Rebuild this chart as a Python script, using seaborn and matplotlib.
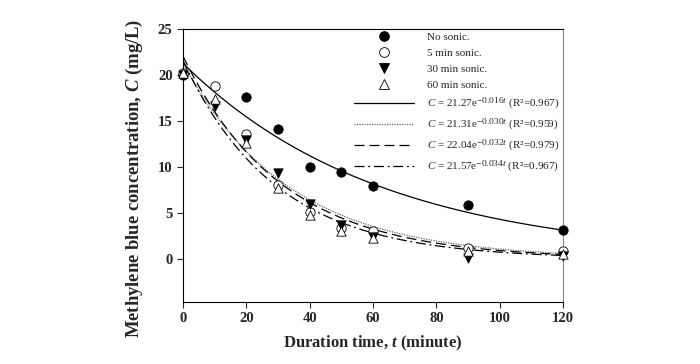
import numpy as np
import pandas as pd
import matplotlib
matplotlib.use('Agg')
import matplotlib.pyplot as plt
import matplotlib._mathtext as mathtext_mod
from matplotlib.lines import Line2D
import seaborn as sns

# measured data (mg/L)
t_min = [0, 10, 20, 30, 40, 50, 60, 90, 120]
t_nosonic = [0, 20, 30, 40, 50, 60, 90, 120]
c_nosonic = [20.0, 17.6, 14.1, 10.0, 9.4, 7.9, 5.9, 3.1]
c_5min = [20.2, 18.8, 13.6, 8.0, 5.1, 3.4, 3.0, 1.2, 0.9]
c_30min = [20.0, 16.6, 12.9, 9.3, 6.0, 3.7, 2.4, 0.1, 0.3]
c_60min = [20.2, 17.4, 12.6, 7.7, 4.8, 3.0, 2.3, 0.8, 0.5]

# fitted first-order decay parameters, C = a * exp(-k t)
fit_a = [21.27, 21.31, 22.04, 21.57]
fit_k = [0.016, 0.030, 0.032, 0.034]
fit_r2 = [0.967, 0.959, 0.979, 0.967]

series_names = ['No sonic.', '5 min sonic.', '30 min sonic.', '60 min sonic.']

sns.set_style('ticks')
plt.rcParams['font.family'] = ['Liberation Serif', 'DejaVu Serif']
plt.rcParams['mathtext.fontset'] = 'custom'
plt.rcParams['mathtext.rm'] = 'Liberation Serif'
plt.rcParams['mathtext.it'] = 'Liberation Serif:italic'
plt.rcParams['mathtext.bf'] = 'Liberation Serif:bold'
plt.rcParams['mathtext.bfit'] = 'Liberation Serif:bold:italic'
# exponents in the legend are almost full size in the original
mathtext_mod.SHRINK_FACTOR = 0.85

rows = []
for name, tt, cc in zip(series_names,
                        [t_nosonic, t_min, t_min, t_min],
                        [c_nosonic, c_5min, c_30min, c_60min]):
    for a, b in zip(tt, cc):
        rows.append({'t': a, 'C': b, 'series': name})
df = pd.DataFrame(rows)

t_fit = np.linspace(0, 120, 200)
fit_rows = []
for name, a, k in zip(series_names, fit_a, fit_k):
    for tv in t_fit:
        fit_rows.append({'t': tv, 'C': a * np.exp(-k * tv), 'series': name})
df_fit = pd.DataFrame(fit_rows)

fig = plt.figure(figsize=(7, 3.64), dpi=100)
ax = fig.add_axes([0.2614, 0.1703, 0.5429, 0.75])

line_styles = ['-', (0, (1, 1)), (0, (8, 4)), (0, (8, 3, 1.5, 3))]
line_colors = ['black', '#666666', 'black', 'black']
for name, ls, col in zip(series_names, line_styles, line_colors):
    sub = df_fit[df_fit['series'] == name]
    sns.lineplot(data=sub, x='t', y='C', ax=ax, color=col, lw=0.9,
                 linestyle=ls, legend=False)

marker_specs = [('o', 'black'), ('o', 'white'), ('v', 'black'), ('^', 'white')]
for name, (m, fc) in zip(series_names, marker_specs):
    sub = df[df['series'] == name]
    sns.scatterplot(data=sub, x='t', y='C', ax=ax, marker=m, s=45,
                    facecolor=fc, edgecolor='black', linewidth=0.6,
                    legend=False, zorder=3, clip_on=False)

ax.set_xlim(0, 120)
ax.set_ylim(-4.7, 25)
ax.set_xticks([0, 20, 40, 60, 80, 100, 120])
ax.set_yticks([0, 5, 10, 15, 20, 25])
ax.tick_params(axis='both', direction='out', length=4, width=0.8,
               labelsize=10.5, top=False, right=False)
for lab in ax.get_xticklabels() + ax.get_yticklabels():
    lab.set_fontweight('bold')
for sp in ax.spines.values():
    sp.set_visible(True)
    sp.set_color('black')
    sp.set_linewidth(0.8)
ax.spines['right'].set_color('#888888')

ax.set_xlabel('Duration time, $\\boldsymbol{t}$ (minute)', fontsize=12,
              fontweight='bold', labelpad=6)
ax.set_ylabel('Methylene blue concentration, $\\boldsymbol{C}$ (mg/L)',
              fontsize=13.4, fontweight='bold')
ax.yaxis.set_label_coords(-0.10, 0.454)

handles = []
labels = []
for name, (m, fc) in zip(series_names, marker_specs):
    handles.append(Line2D([], [], linestyle='none', marker=m, markersize=7,
                          markerfacecolor=fc, markeredgecolor='black',
                          markeredgewidth=0.6))
    labels.append(name)
for a, k, r2, ls, col in zip(fit_a, fit_k, fit_r2, line_styles, line_colors):
    handles.append(Line2D([], [], linestyle=ls, color=col, lw=0.9))
    labels.append('$C$ = %.2fe$^{-%.3f t}$ (R\u00b2=%.3f)' % (a, k, r2))

leg = ax.legend(handles, labels, loc='upper right', bbox_to_anchor=(1.0, 1.0),
                frameon=False, fontsize=8.0, handlelength=5.4,
                handletextpad=1.2, labelspacing=0.55, borderaxespad=0.0,
                borderpad=0.3)

fig.savefig('out.png', dpi=100)
